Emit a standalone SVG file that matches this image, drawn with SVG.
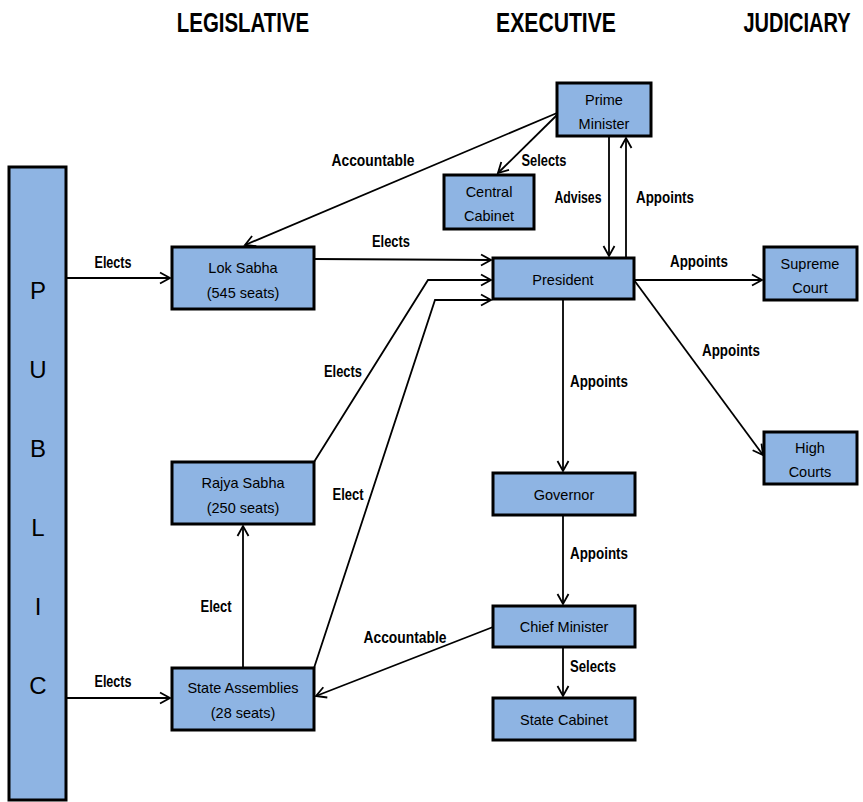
<svg xmlns="http://www.w3.org/2000/svg" width="863" height="802" viewBox="0 0 863 802">
<style>
.box{fill:#8EB4E3;stroke:#000;stroke-width:3}
.nt{font-family:"Liberation Sans",Arial,sans-serif;font-size:14.5px;fill:#000;text-anchor:middle}
.pl{font-family:"Liberation Sans",Arial,sans-serif;font-size:24px;fill:#000;text-anchor:middle}
.hd{font-family:"Liberation Sans",Arial,sans-serif;font-size:28px;font-weight:bold;fill:#000;text-anchor:middle}
.lb{font-family:"Liberation Sans",Arial,sans-serif;font-size:16px;font-weight:bold;fill:#000;text-anchor:middle}
.cn{fill:none;stroke:#000;stroke-width:1.8;marker-end:url(#a)}
</style>
<defs>
<marker id="a" markerUnits="userSpaceOnUse" markerWidth="14" markerHeight="14" refX="12" refY="7" orient="auto" viewBox="0 0 14 14">
<path d="M2,1.5 L12,7 L2,12.5" fill="none" stroke="#000" stroke-width="1.8"/>
</marker>
</defs>
<rect width="863" height="802" fill="#fff"/>
<g id="headers">
<text class="hd" transform="translate(243,32) scale(0.73,1)" x="0" y="0">LEGISLATIVE</text>
<text class="hd" transform="translate(556,32) scale(0.756,1)" x="0" y="0">EXECUTIVE</text>
<text class="hd" transform="translate(797,32) scale(0.715,1)" x="0" y="0">JUDICIARY</text>
</g>
<g id="connectors">
<path class="cn" d="M66,278 H170"/>
<path class="cn" d="M66,698 H170"/>
<path class="cn" d="M314,259 L491,260"/>
<path class="cn" d="M314,462 L428,280 H491"/>
<path class="cn" d="M314,668 L435,300 H491"/>
<path class="cn" d="M243,668 V526"/>
<path class="cn" d="M557,113 L245,245"/>
<path class="cn" d="M557,115 L498,173"/>
<path class="cn" d="M609,137 V256"/>
<path class="cn" d="M626,258 V138"/>
<path class="cn" d="M634,280 H762"/>
<path class="cn" d="M634,280 L763,455"/>
<path class="cn" d="M563,300 V471"/>
<path class="cn" d="M563,515 V604"/>
<path class="cn" d="M563,647 V696"/>
<path class="cn" d="M493,627 L316,696"/>
<text class="lb" x="113" y="268" textLength="37" lengthAdjust="spacingAndGlyphs">Elects</text>
<text class="lb" x="113" y="687" textLength="37" lengthAdjust="spacingAndGlyphs">Elects</text>
<text class="lb" x="391" y="247" textLength="38" lengthAdjust="spacingAndGlyphs">Elects</text>
<text class="lb" x="373" y="166" textLength="83" lengthAdjust="spacingAndGlyphs">Accountable</text>
<text class="lb" x="544" y="166" textLength="45" lengthAdjust="spacingAndGlyphs">Selects</text>
<text class="lb" x="578" y="203" textLength="47" lengthAdjust="spacingAndGlyphs">Advises</text>
<text class="lb" x="665" y="203" textLength="58" lengthAdjust="spacingAndGlyphs">Appoints</text>
<text class="lb" x="699" y="267" textLength="58" lengthAdjust="spacingAndGlyphs">Appoints</text>
<text class="lb" x="731" y="356" textLength="58" lengthAdjust="spacingAndGlyphs">Appoints</text>
<text class="lb" x="343" y="377" textLength="38" lengthAdjust="spacingAndGlyphs">Elects</text>
<text class="lb" x="348" y="500" textLength="31" lengthAdjust="spacingAndGlyphs">Elect</text>
<text class="lb" x="216" y="612" textLength="31" lengthAdjust="spacingAndGlyphs">Elect</text>
<text class="lb" x="405" y="643" textLength="83" lengthAdjust="spacingAndGlyphs">Accountable</text>
<text class="lb" x="599" y="387" textLength="58" lengthAdjust="spacingAndGlyphs">Appoints</text>
<text class="lb" x="599" y="559" textLength="58" lengthAdjust="spacingAndGlyphs">Appoints</text>
<text class="lb" x="593" y="672" textLength="46" lengthAdjust="spacingAndGlyphs">Selects</text>
</g>
<g id="public">
<rect class="box" x="9" y="167" width="57" height="633"/>
<text class="pl" x="38" y="299">P</text>
<text class="pl" x="38" y="378">U</text>
<text class="pl" x="38" y="457">B</text>
<text class="pl" x="38" y="536">L</text>
<text class="pl" x="38" y="615">I</text>
<text class="pl" x="38" y="694">C</text>
</g>
<g id="prime-minister">
<rect class="box" x="557" y="83" width="94" height="53"/>
<text class="nt" x="604" y="105">Prime</text>
<text class="nt" x="604" y="129">Minister</text>
</g>
<g id="central-cabinet">
<rect class="box" x="444" y="175" width="90" height="54"/>
<text class="nt" x="489" y="197">Central</text>
<text class="nt" x="489" y="221">Cabinet</text>
</g>
<g id="lok-sabha">
<rect class="box" x="172" y="247" width="142" height="62"/>
<text class="nt" x="243" y="273">Lok Sabha</text>
<text class="nt" x="243" y="298">(545 seats)</text>
</g>
<g id="president">
<rect class="box" x="493" y="258" width="141" height="41"/>
<text class="nt" x="563" y="285">President</text>
</g>
<g id="supreme-court">
<rect class="box" x="764" y="247" width="93" height="53"/>
<text class="nt" x="810" y="269">Supreme</text>
<text class="nt" x="810" y="293">Court</text>
</g>
<g id="high-courts">
<rect class="box" x="764" y="432" width="93" height="52"/>
<text class="nt" x="810" y="453">High</text>
<text class="nt" x="810" y="477">Courts</text>
</g>
<g id="rajya-sabha">
<rect class="box" x="172" y="462" width="142" height="62"/>
<text class="nt" x="243" y="488">Rajya Sabha</text>
<text class="nt" x="243" y="513">(250 seats)</text>
</g>
<g id="state-assemblies">
<rect class="box" x="172" y="668" width="142" height="62"/>
<text class="nt" x="243" y="693">State Assemblies</text>
<text class="nt" x="243" y="718">(28 seats)</text>
</g>
<g id="governor">
<rect class="box" x="493" y="473" width="142" height="42"/>
<text class="nt" x="564" y="500">Governor</text>
</g>
<g id="chief-minister">
<rect class="box" x="493" y="606" width="142" height="41"/>
<text class="nt" x="564" y="632">Chief Minister</text>
</g>
<g id="state-cabinet">
<rect class="box" x="493" y="698" width="142" height="42"/>
<text class="nt" x="564" y="725">State Cabinet</text>
</g>
</svg>
